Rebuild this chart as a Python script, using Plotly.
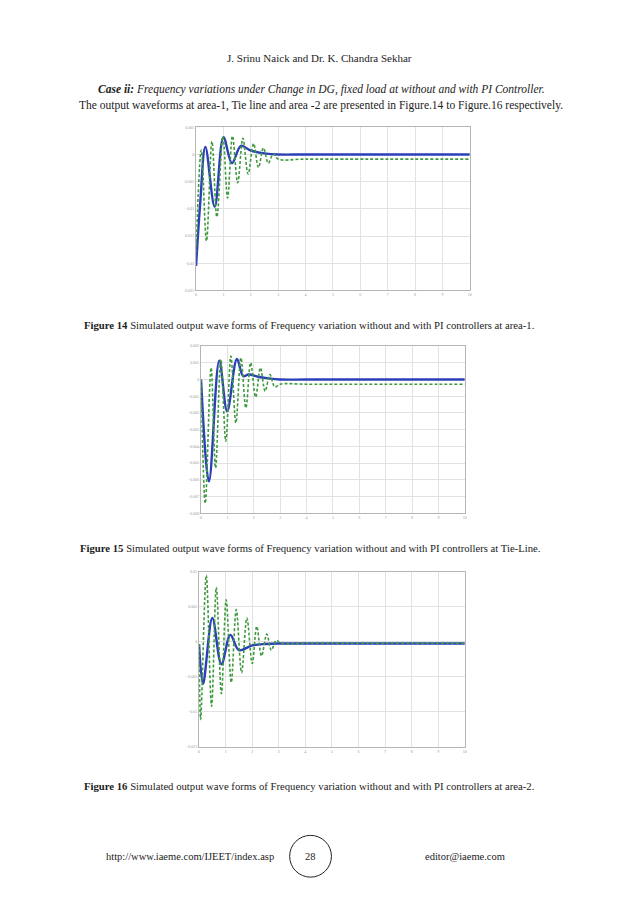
import plotly.graph_objects as go

W, H = 638, 903

# ---------- data ----------
# Figure 14 : area-1
t_a1_pi   = [0, 0.15, 0.34, 0.68, 1.0, 1.31, 1.64, 2.0, 2.5, 3.0, 4.0, 10.0]
f_a1_pi   = [-0.0205, -0.009, 0.0014, -0.0096, 0.0032, -0.0016, 0.0016, 0.0007, 0.0002, 0.0, 0.0, 0.0]
t_a1_nopi = [0, 0.19, 0.38, 0.58, 0.76, 0.98, 1.15, 1.33, 1.52, 1.71, 1.9, 2.1, 2.28, 2.46, 2.64, 2.82, 3.0, 4.0, 10.0]
f_a1_nopi = [-0.018, 0.0008, -0.0159, 0.0024, -0.0115, 0.0033, -0.008, 0.0034, -0.0052, 0.003, -0.0036, 0.002,
             -0.0024, 0.0012, -0.0016, 0.0001, -0.00085, -0.00085, -0.00085]

# Figure 15 : tie-line
t_tl_pi   = [0, 0.3, 0.69, 0.99, 1.36, 1.6, 1.8, 2.2, 2.5, 3.0, 4.0, 10.0]
f_tl_pi   = [0.0, -0.0061, 0.00113, -0.0019, 0.00123, 0.0002, 0.0003, 0.00015, 0.00008, 0.0, 0.0, 0.0]
t_tl_nopi = [0, 0.16, 0.38, 0.55, 0.75, 0.94, 1.13, 1.32, 1.51, 1.7, 1.88, 2.07, 2.25, 2.43, 2.61, 2.8, 3.0, 4.0, 10.0]
f_tl_nopi = [0.0, -0.0074, 0.0007, -0.0053, 0.0012, -0.0037, 0.0014, -0.0026, 0.0013, -0.0017, 0.001, -0.00105,
             0.0007, -0.0007, 0.0003, -0.00045, -0.00028, -0.00028, -0.00028]

# Figure 16 : area-2
t_a2_pi   = [0, 0.15, 0.5, 0.84, 1.18, 1.5, 2.0, 2.5, 3.0, 4.0, 10.0]
f_a2_pi   = [-0.0003, -0.006, 0.0034, -0.0032, 0.001, -0.0012, -0.0005, -0.0003, -0.00024, -0.00024, -0.00024]
t_a2_nopi = [0, 0.06, 0.27, 0.47, 0.65, 0.84, 1.02, 1.21, 1.4, 1.6, 1.8, 2.0, 2.17, 2.35, 2.55, 2.72, 2.9, 3.1, 4.0, 10.0]
f_a2_nopi = [-0.0003, -0.0111, 0.0095, -0.0092, 0.0078, -0.0074, 0.006, -0.0058, 0.0046, -0.0044, 0.0034, -0.0031,
             0.0022, -0.002, 0.0011, -0.0012, 0.0002, -0.0002, -0.0002, -0.0002]

x_ticks = list(range(0, 11))
y1_ticks = [0.005, 0, -0.005, -0.01, -0.015, -0.02, -0.025]
y2_ticks = [0.002, 0.001, 0, -0.001, -0.002, -0.003, -0.004, -0.005, -0.006, -0.007, -0.008]
y3_ticks = [0.01, 0.005, 0, -0.005, -0.01, -0.015]

BLUE = "#2a3fb8"
GREEN = "#3f9a3f"

fig = go.Figure()

panels = [
    (t_a1_nopi, f_a1_nopi, t_a1_pi, f_a1_pi, "", ""),
    (t_tl_nopi, f_tl_nopi, t_tl_pi, f_tl_pi, "2", "2"),
    (t_a2_nopi, f_a2_nopi, t_a2_pi, f_a2_pi, "3", "3"),
]
for tg, fg, tb, fb, xs, ys in panels:
    fig.add_trace(go.Scatter(x=tb, y=fb, mode="lines", line=dict(color=BLUE, width=2.4, shape="spline", smoothing=1.0),
                             xaxis="x" + xs, yaxis="y" + ys, showlegend=False, hoverinfo="skip"))
    fig.add_trace(go.Scatter(x=tg, y=fg, mode="lines", line=dict(color=GREEN, width=1.6, dash="3px,2px", shape="spline", smoothing=1.0),
                             xaxis="x" + xs, yaxis="y" + ys, showlegend=False, hoverinfo="skip"))

def px_x(a, b):
    return [a / W, b / W]

def px_y(top, bottom):
    return [1 - bottom / H, 1 - top / H]

ax_common = dict(showgrid=True, gridcolor="#e2e2e2", gridwidth=1, zeroline=False, showline=True,
                 linecolor="#b5b5b5", linewidth=1, mirror=True, ticks="", tickfont=dict(size=4, color="#9a9a9a"),
                 fixedrange=True)

fig.update_layout(
    width=W, height=H, margin=dict(l=0, r=0, t=0, b=0),
    paper_bgcolor="white", plot_bgcolor="white",
    xaxis=dict(domain=px_x(196, 471), range=[0, 10], tickvals=x_ticks, anchor="y", **ax_common),
    yaxis=dict(domain=px_y(125, 289), range=[-0.025, 0.005], tickvals=y1_ticks, anchor="x", **ax_common),
    xaxis2=dict(domain=px_x(201, 466), range=[0, 10], tickvals=x_ticks, anchor="y2", **ax_common),
    yaxis2=dict(domain=px_y(345, 513), range=[-0.008, 0.002], tickvals=y2_ticks, anchor="x2", **ax_common),
    xaxis3=dict(domain=px_x(199, 466), range=[0, 10], tickvals=x_ticks, anchor="y3", **ax_common),
    yaxis3=dict(domain=px_y(572, 748), range=[-0.015, 0.01], tickvals=y3_ticks, anchor="x3", **ax_common),
    font=dict(family="Liberation Serif", color="#222"),
)

def txt(x, y, s, size=11, anchor="center"):
    fig.add_annotation(x=x / W, y=1 - y / H, xref="paper", yref="paper", text=s, showarrow=False,
                       xanchor=anchor, yanchor="middle", font=dict(family="Liberation Serif", size=size, color="#222"))

txt(320, 55, "J. Srinu Naick and Dr. K. Chandra Sekhar", 11)
txt(322, 87, "<b><i>Case ii:</i></b><i> Frequency variations under Change in DG, fixed load at without and with PI Controller.</i>", 11.5)
txt(322, 103, "The output waveforms at area-1, Tie line and area -2 are presented in Figure.14 to Figure.16 respectively.", 11.5)
txt(81, 324, "<b>Figure 14</b> Simulated output wave forms of Frequency variation without and with PI controllers at area-1.", 10.7, "left")
txt(77, 548, "<b>Figure 15</b> Simulated output wave forms of Frequency variation without and with PI controllers at Tie-Line.", 10.7, "left")
txt(81, 787, "<b>Figure 16</b> Simulated output wave forms of Frequency variation without and with PI controllers at area-2.", 10.7, "left")
txt(103, 858, "http://www.iaeme.com/IJEET/index.asp", 10.5, "left")
txt(311, 858, "28", 10.5)
txt(424, 858, "editor@iaeme.com", 10.5, "left")

fig.add_shape(type="circle", xref="paper", yref="paper", x0=290 / W, x1=332 / W, y0=1 - 879 / H, y1=1 - 837 / H,
              line=dict(color="#222", width=1))

fig.write_html("out.html", config={"displayModeBar": False},
               post_script="document.body.style.margin='0';document.body.style.overflow='hidden';")
